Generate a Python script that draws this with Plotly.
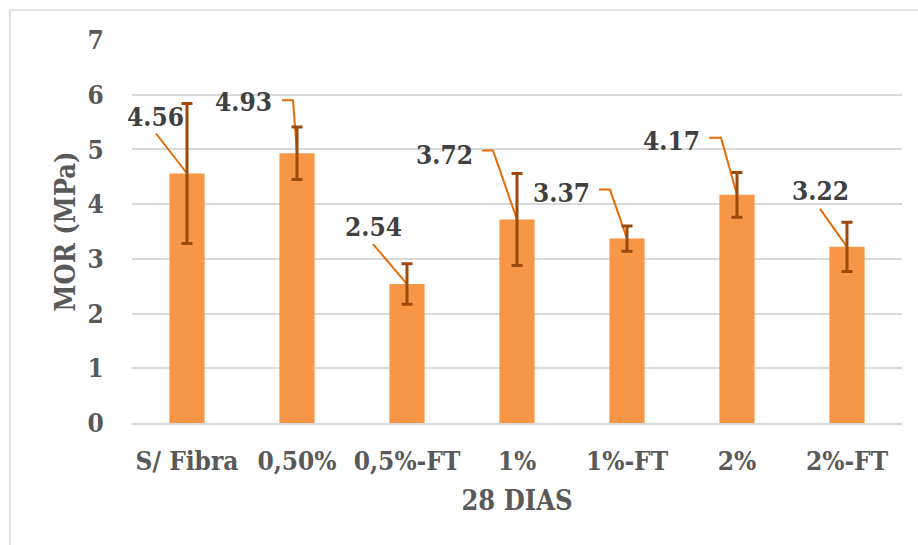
import plotly.graph_objects as go

# Flexural strength (MOR) at 28 days per mix
categories = ["S/ Fibra", "0,50%", "0,5%-FT", "1%", "1%-FT", "2%", "2%-FT"]
mor_values = [4.56, 4.93, 2.54, 3.72, 3.37, 4.17, 3.22]
mor_errors = [1.28, 0.48, 0.37, 0.84, 0.23, 0.41, 0.45]
y_ticks = [0, 1, 2, 3, 4, 5, 6, 7]

# Label placement in pixels relative to each bar top (x right, y up)
label_offsets = [(-32, 57), (-54, 51), (-34, 57), (-73, 64), (-66, 46), (-66, 54), (-27, 56)]
# Leader line vertices in pixels relative to each bar top
leader_paths = [
    [(-31, 40)],
    [(-15, 53), (-4, 53)],
    [(-34, 40)],
    [(-35, 69), (-24, 69)],
    [(-28, 49), (-17, 49)],
    [(-28, 57), (-16, 57)],
    [(-27, 38)],
]

FONT = "DejaVu Serif Condensed, DejaVu Serif, serif"
BAR = "#F79646"
ERR = "#9C4A0C"
LEAD = "#E46C0A"
GRID = "#D9D9D9"

xs = list(range(len(categories)))

fig = go.Figure()
fig.add_trace(go.Bar(
    x=xs, y=mor_values, width=0.32,
    marker=dict(color=BAR, line=dict(width=0)),
    error_y=dict(type="data", array=mor_errors, visible=True,
                 color=ERR, thickness=3, width=5.5),
    hoverinfo="skip",
))

shapes = []
annotations = []
for x, v, (dx, dy), pts in zip(xs, mor_values, label_offsets, leader_paths):
    path = "M " + " L ".join(f"{px},{py}" for px, py in pts) + " L 0,0"
    shapes.append(dict(
        type="path", xref="x", yref="y",
        xsizemode="pixel", ysizemode="pixel", xanchor=x, yanchor=v,
        path=path, line=dict(color=LEAD, width=2), layer="between",
    ))
    annotations.append(dict(
        x=x, y=v, xref="x", yref="y", xshift=dx, yshift=dy,
        text=f"{v:.2f}", showarrow=False, xanchor="center", yanchor="middle",
        font=dict(family=FONT, size=26, color="#404040", weight="bold"),
    ))

# outer chart frame
shapes.append(dict(
    type="rect", xref="paper", yref="paper",
    x0=(10 - 132) / 770, x1=(922 - 132) / 770,
    y0=(423 - 550) / 383, y1=1 + (40 - 10) / 383,
    line=dict(color=GRID, width=1.5), fillcolor="rgba(0,0,0,0)", layer="below",
))

fig.update_layout(
    width=918, height=545,
    margin=dict(l=132, r=16, t=40, b=122),
    paper_bgcolor="white", plot_bgcolor="white",
    showlegend=False,
    shapes=shapes, annotations=annotations,
    font=dict(family=FONT, color="#595959", weight="bold"),
    xaxis=dict(
        range=[-0.5, len(categories) - 0.5],
        tickvals=xs, ticktext=categories,
        tickfont=dict(family=FONT, size=26, color="#595959", weight="bold"),
        showgrid=False, zeroline=False,
        showline=True, linecolor=GRID, linewidth=1.5,
        ticks="outside", ticklen=0, ticklabelstandoff=14,
        title=dict(text="28 DIAS", standoff=16,
                   font=dict(family=FONT, size=27, color="#595959", weight="bold")),
    ),
    yaxis=dict(
        range=[0, 7], tickvals=y_ticks,
        tickfont=dict(family=FONT, size=26, color="#595959", weight="bold"),
        showgrid=True, gridcolor=GRID, gridwidth=1.5,
        zeroline=False, showline=False,
        ticks="outside", ticklen=0, ticklabelstandoff=22,
        title=dict(text="MOR (MPa)", standoff=4,
                   font=dict(family=FONT, size=27, color="#595959", weight="bold")),
    ),
)

fig.write_html("out.html")
